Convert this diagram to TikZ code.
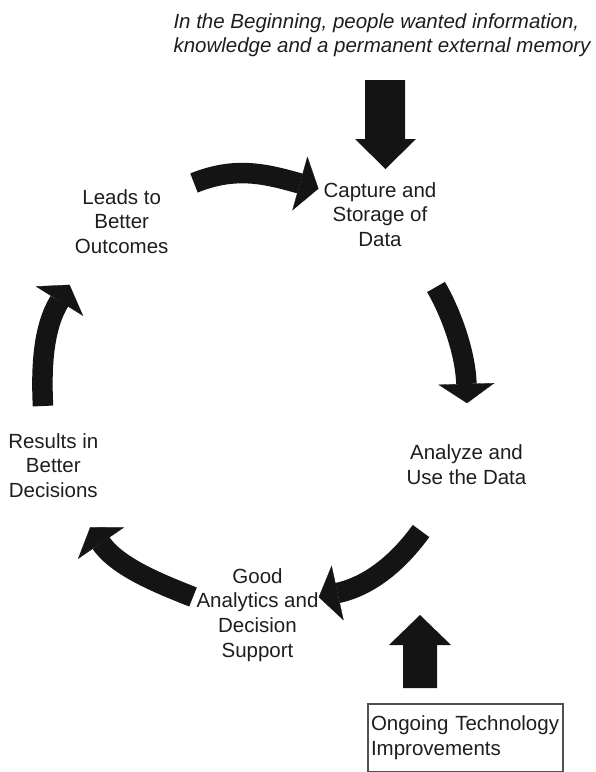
\documentclass[tikz,border=0pt]{standalone}
\usepackage{fontspec}
\setmainfont{Liberation Sans}
\definecolor{txt}{HTML}{1E1E1E}
\definecolor{arrowc}{HTML}{141414}
\definecolor{boxc}{HTML}{505050}
\begin{document}
\begin{tikzpicture}[x=1pt,y=-1pt,
  lbl/.style={font=\fontsize{20.5}{24.6}\selectfont, align=center, inner sep=0pt, text=txt, anchor=base},
  intro/.style={font=\fontsize{20.5}{24.6}\selectfont\itshape, align=left, inner sep=0pt, text=txt, anchor=base west},
  shaft/.style={draw=arrowc, line width=20.5pt},
  headc/.style={fill=arrowc, draw=arrowc, line width=0.3pt, line join=miter},
  techbox/.style={draw=boxc, line width=1.2pt, font=\fontsize{20.5}{24.6}\selectfont, align=left, text=txt,
    minimum width=195pt, minimum height=67.5pt, text width=189pt, inner sep=3pt}]
\useasboundingbox (0,0) rectangle (596,772);

% texts (anchor = baseline of the last line)
\node[intro] (begin) at (173.3,52.6) {In the Beginning, people wanted information,\\knowledge and a permanent external memory};
\node[lbl] (capture) at (380,246.2) {Capture and\\Storage of\\Data};
\node[lbl] (analyze) at (466.5,484) {Analyze and\\Use the Data};
\node[lbl] (good) at (257.5,657.1) {Good\\Analytics and\\Decision\\Support};
\node[lbl] (results) at (53.3,497.5) {Results in\\Better\\Decisions};
\node[lbl] (leads) at (121.7,253.5) {Leads to\\Better\\Outcomes};
\node[techbox] (tech) at (465.5,737.8) {Ongoing Technology\\Improvements};

% straight block arrows
\fill[arrowc] (365,80) -- (405,80) -- (405,139) -- (416,139) -- (385.5,169) -- (355,139) -- (365,139) -- cycle;
\fill[arrowc] (403,688) -- (437,688) -- (437,645) -- (451,645) -- (420,615) -- (389,645) -- (403,645) -- cycle;

% curved arrow: Leads -> Capture
\coordinate (a0) at (194,183);
\coordinate (a1) at (300,183.5);
\draw[shaft] (a0) .. controls (236,166) and (266,174) .. (a1);
\filldraw[headc] (292.6,210) -- (318.3,188.6) -- (307.4,157) -- cycle;

% curved arrow: Capture -> Analyze
\coordinate (b0) at (436,287);
\coordinate (b1) at (466.4,384);
\draw[shaft] (b0) .. controls (449,309) and (465.4,350) .. (b1);
\filldraw[headc] (438.9,384.8) -- (467,403) -- (493.9,383.2) -- cycle;

% curved arrow: Analyze -> Good
\coordinate (c0) at (421,531);
\coordinate (c1) at (337.5,593);
\draw[shaft] (c0) .. controls (400,560) and (371.7,585.5) .. (c1);
\filldraw[headc] (343.4,619.9) -- (318.9,597.1) -- (331.6,566.1) -- cycle;

% curved arrow: Good -> Results
\coordinate (d0) at (193,597);
\coordinate (d1) at (101,543);
\draw[shaft] (d0) .. controls (163,585) and (117.9,567.8) .. (d1);
\filldraw[headc] (123.7,527.5) -- (90.3,527.3) -- (78.3,558.5) -- cycle;

% curved arrow: Results -> Leads
\coordinate (e0) at (43,406);
\coordinate (e1) at (59.5,301);
\draw[shaft] (e0) .. controls (41,365) and (43.7,326.5) .. (e1);
\filldraw[headc] (82.8,315.5) -- (69.5,284.9) -- (36.2,286.5) -- cycle;
\end{tikzpicture}
\end{document}
